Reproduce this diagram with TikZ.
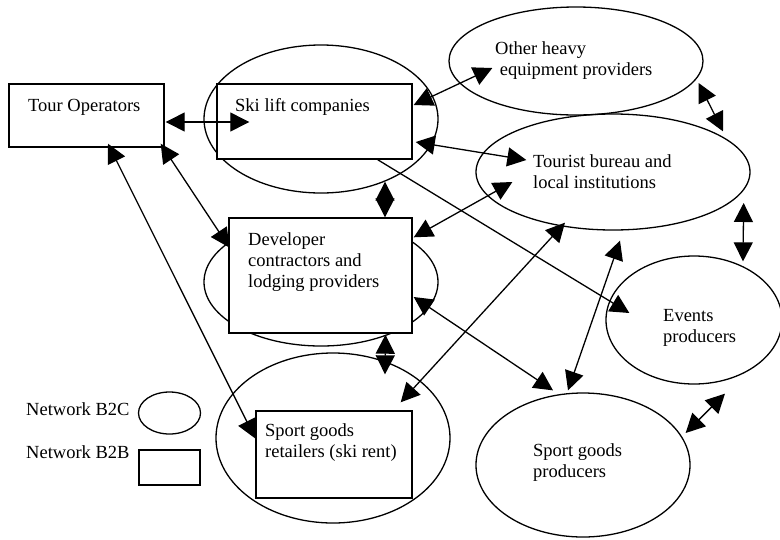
\documentclass[tikz,border=0pt]{standalone}
\usepackage{fontspec}
\setmainfont{Liberation Serif}
\usetikzlibrary{shapes.geometric}
\usetikzlibrary{arrows.meta}
\usetikzlibrary{calc}

\begin{document}
\begin{tikzpicture}[x=1pt,y=-1pt,
	ell/.style={draw,ellipse,line width=1.3pt,inner sep=0pt},
	box/.style={draw,rectangle,fill=white,line width=1.4pt,inner sep=0pt},
	lbl/.style={inner sep=0pt,align=left,font=\fontsize{18.5}{21}\selectfont,anchor=base west},
	link/.style={line width=1.3pt,{Triangle[length=19pt,width=19pt]}-{Triangle[length=19pt,width=19pt]}},
	oneway/.style={line width=1.3pt,-{Triangle[length=19pt,width=19pt]}}]
\useasboundingbox (0,0) rectangle (780,539);
	% B2C networks
	\node[ell,minimum width=234pt,minimum height=148pt] (skiell) at (321,119) {};
	\node[ell,minimum width=254pt,minimum height=108pt] (otherell) at (576,61) {};
	\node[ell,minimum width=274pt,minimum height=116pt] (touell) at (613,172) {};
	\node[ell,minimum width=234pt,minimum height=128pt] (devell) at (321,282) {};
	\node[ell,minimum width=234pt,minimum height=170pt] (retell) at (333,438) {};
	\node[ell,minimum width=176pt,minimum height=128pt] (evell) at (694,320) {};
	\node[ell,minimum width=214pt,minimum height=144pt] (sgpell) at (583,465) {};
	\node[ell,minimum width=62pt,minimum height=42pt] (legell) at (169.5,413) {};
	% B2B networks
	\node[box,minimum width=155pt,minimum height=63pt] (tour) at (86.5,115.5) {};
	\node[box,minimum width=195pt,minimum height=75pt] (skibox) at (314.5,121.5) {};
	\node[box,minimum width=183pt,minimum height=115pt] (devbox) at (320.5,275.5) {};
	\node[box,minimum width=156pt,minimum height=87pt] (retbox) at (334,454.5) {};
	\node[box,minimum width=61pt,minimum height=35pt] (legbox) at (169.5,467.5) {};
	% labels (base = last line)
	\node[lbl] (tourtxt) at (28,111) {Tour Operators};
	\node[lbl] (skitxt) at (235,111) {Ski lift companies};
	\node[lbl] (othertxt) at (495,75) {Other heavy\\\ equipment providers};
	\node[lbl] (toutxt) at (533,188) {Tourist bureau and\\local institutions};
	\node[lbl] (devtxt) at (248,287) {Developer\\contractors and\\lodging providers};
	\node[lbl] (rettxt) at (265,457) {Sport goods\\retailers (ski rent)};
	\node[lbl] (evtxt) at (663,342) {Events\\producers};
	\node[lbl] (sgptxt) at (533,477) {Sport goods\\producers};
	\node[lbl] (b2ctxt) at (26,415) {Network B2C};
	\node[lbl] (b2btxt) at (26,458) {Network B2B};
	% links
	\draw[link] ($(tour.east)+(1,6.5)$) -- ($(skibox.west)+(33,0.5)$);
	\draw[link] ($(tour.south east)+(-4,-4)$) -- ($(devbox.west)+(1,-28)$);
	\draw[link] ($(tour.south)+(21.5,-4)$) -- ($(retbox.west)+(0,-16)$);
	\draw[link] ($(skiell.south)+(64,-12)$) -- ($(devbox.north)+(64.5,0)$);
	\draw[link] ($(devbox.south)+(65,1)$) -- ($(retell.north)+(52,22)$);
	\draw[link] ($(skibox.east)+(1,-16.5)$) -- ($(otherell.west)+(44,7)$);
	\draw[link] ($(skibox.east)+(3,20.5)$) -- ($(touell.west)+(51,-12)$);
	\draw[oneway] ($(skibox.south east)+(-35,0)$) -- ($(evell.west)+(24,-7)$);
	\draw[link] ($(devbox.north east)+(1,20)$) -- ($(touell.west)+(37,10)$);
	\draw[link] ($(retbox.north east)+(-12,-8)$) -- ($(touell.south)+(-48,-8)$);
	\draw[link] ($(devbox.east)+(1,21.5)$) -- ($(sgpell.north)+(-30,-2)$);
	\draw[link] ($(touell.south)+(7,10)$) -- ($(sgpell.north)+(-15,-2)$);
	\draw[link] ($(otherell.east)+(-5,22)$) -- ($(touell.north)+(110,18)$);
	\draw[link] ($(touell.east)+(-7,31)$) -- ($(evell.north)+(49,6)$);
	\draw[link] ($(sgpell.east)+(-5,-32)$) -- ($(evell.south)+(31,9)$);
\end{tikzpicture}
\end{document}
